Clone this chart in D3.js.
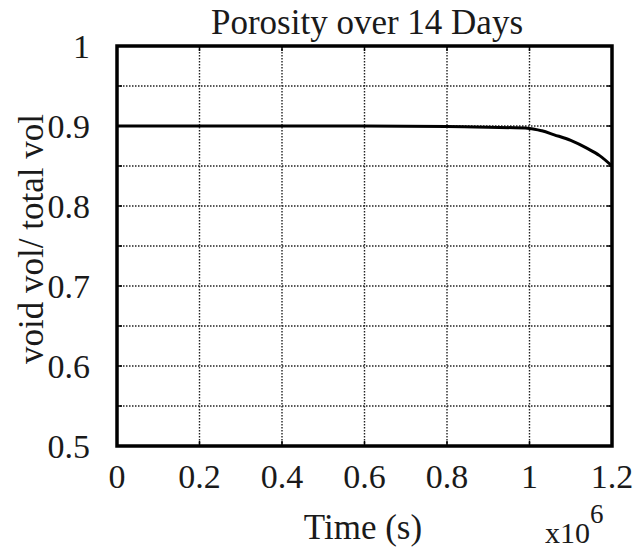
<!DOCTYPE html>
<html>
<head>
<meta charset="utf-8">
<script src="https://cdn.jsdelivr.net/npm/d3@7"></script>
<style>
  body { margin: 0; background: #fff; }
  text { font-family: "Liberation Serif", "Times New Roman", serif; fill: #1a1a1a; }
</style>
</head>
<body>
<svg id="chart" width="633" height="551"></svg>
<script>
// time in units of 1e6 seconds
var timeVals = [0, 0.2, 0.4, 0.6, 0.8, 0.9, 1.0, 1.03, 1.06, 1.1, 1.14, 1.17, 1.2];
var porosity = [0.9, 0.9, 0.9, 0.9, 0.8995, 0.8985, 0.897, 0.894, 0.889, 0.882, 0.872, 0.863, 0.85];
var xTicks = [0, 0.2, 0.4, 0.6, 0.8, 1, 1.2];
var yTicks = [0.5, 0.6, 0.7, 0.8, 0.9, 1];
var yGrid = [0.55, 0.6, 0.65, 0.7, 0.75, 0.8, 0.85, 0.9, 0.95];

var svg = d3.select('#chart');
var pLeft = 117, pRight = 612, pTop = 46, pBottom = 446;

var x = d3.scaleLinear().domain([0, 1.2]).range([pLeft, pRight]);
var y = d3.scaleLinear().domain([0.5, 1]).range([pBottom, pTop]);

svg.append('rect').attr('width', 633).attr('height', 551).attr('fill', '#fff');

// dotted grid
var grid = svg.append('g');
grid.selectAll('line.gx')
  .data(xTicks.slice(1, -1))
  .enter().append('line')
  .attr('x1', function(d) { return x(d); })
  .attr('x2', function(d) { return x(d); })
  .attr('y1', pTop).attr('y2', pBottom);
grid.selectAll('line.gy')
  .data(yGrid)
  .enter().append('line')
  .attr('y1', function(d) { return y(d); })
  .attr('y2', function(d) { return y(d); })
  .attr('x1', pLeft).attr('x2', pRight);
grid.selectAll('line')
  .attr('stroke', '#222')
  .attr('stroke-width', 1.4)
  .attr('stroke-dasharray', '1.5,1.5');

// inner ticks
var ticks = svg.append('g').attr('stroke', '#000').attr('stroke-width', 1.5);
xTicks.forEach(function(d) {
  ticks.append('line').attr('x1', x(d)).attr('x2', x(d)).attr('y1', pBottom).attr('y2', pBottom - 5);
  ticks.append('line').attr('x1', x(d)).attr('x2', x(d)).attr('y1', pTop).attr('y2', pTop + 5);
});
yGrid.forEach(function(d) {
  ticks.append('line').attr('y1', y(d)).attr('y2', y(d)).attr('x1', pLeft).attr('x2', pLeft + 5);
  ticks.append('line').attr('y1', y(d)).attr('y2', y(d)).attr('x1', pRight).attr('x2', pRight - 5);
});

// curve
var line = d3.line()
  .x(function(d, i) { return x(timeVals[i]); })
  .y(function(d) { return y(d); })
  .curve(d3.curveMonotoneX);
svg.append('path')
  .datum(porosity)
  .attr('d', line)
  .attr('fill', 'none')
  .attr('stroke', '#000')
  .attr('stroke-width', 3);

// frame
svg.append('rect')
  .attr('x', pLeft).attr('y', pTop)
  .attr('width', pRight - pLeft).attr('height', pBottom - pTop)
  .attr('fill', 'none')
  .attr('stroke', '#000')
  .attr('stroke-width', 3.5);

// tick labels
svg.append('g').selectAll('text')
  .data(xTicks)
  .enter().append('text')
  .attr('x', function(d) { return x(d); })
  .attr('y', 488)
  .attr('text-anchor', 'middle')
  .attr('font-size', 34)
  .text(function(d) { return d3.format('~g')(d); });

svg.append('g').selectAll('text')
  .data(yTicks)
  .enter().append('text')
  .attr('x', 90)
  .attr('y', function(d) { return y(d) + 12; })
  .attr('text-anchor', 'end')
  .attr('font-size', 34)
  .text(function(d) { return d3.format('~g')(d); });

// titles
svg.append('text')
  .attr('x', 367).attr('y', 34)
  .attr('text-anchor', 'middle')
  .attr('font-size', 35)
  .text('Porosity over 14 Days');

svg.append('text')
  .attr('x', 363).attr('y', 539)
  .attr('text-anchor', 'middle')
  .attr('font-size', 35)
  .text('Time (s)');

svg.append('text')
  .attr('transform', 'translate(43,239) rotate(-90)')
  .attr('text-anchor', 'middle')
  .attr('font-size', 35)
  .text('void vol/ total vol');

var exp = svg.append('text').attr('x', 545).attr('y', 543).attr('font-size', 30);
exp.append('tspan').text('x10');
exp.append('tspan').attr('dy', -20).attr('font-size', 27).text('6');
</script>
</body>
</html>
